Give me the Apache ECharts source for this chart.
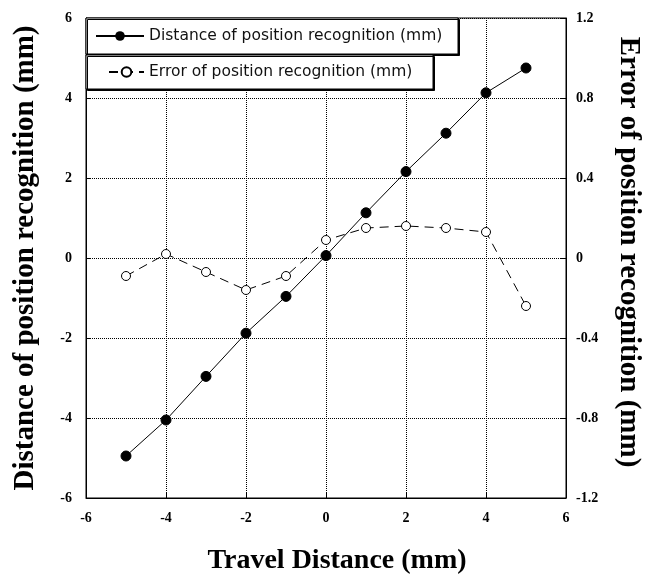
<!DOCTYPE html>
<html>
<head>
<meta charset="utf-8">
<script src="https://cdn.jsdelivr.net/npm/echarts@6/dist/echarts.min.js"></script>
<style>
html,body{margin:0;padding:0;background:#fff;}
#chart{width:650px;height:576px;}
</style>
</head>
<body>
<div id="chart"></div>
<script>
// 数据
var travelDistance = [-5, -4, -3, -2, -1, 0, 1, 2, 3, 4, 5];
var distanceRecog = [-4.95, -4.05, -2.96, -1.88, -0.96, 0.06, 1.13, 2.16, 3.12, 4.13, 4.75];
var errorRecog = [-0.09, 0.02, -0.07, -0.16, -0.09, 0.09, 0.15, 0.16, 0.15, 0.13, -0.24];
var xTicks = [-6, -4, -2, 0, 2, 4, 6];

var serifFont = '"Liberation Serif", "Times New Roman", serif';
var sansFont = '"DejaVu Sans", "Noto Sans", sans-serif';

function pairs(xs, ys){
    var out = [];
    for (var i = 0; i < xs.length; i++) {
        out.push([xs[i], ys[i]]);
    }
    return out;
}

var myChart = echarts.init(document.getElementById('chart'));

var tickLbl = {color:'#000', fontFamily:serifFont, fontWeight:'bold', fontSize:14};
var dotGrid = {show:true, lineStyle:{color:'#000', type:[1,1], width:1}};
var axisLn = {show:true, onZero:false, lineStyle:{color:'#000', width:1}};
var titleStyle = {color:'#000', fontFamily:serifFont, fontWeight:'bold', fontSize:29};

var legendBase = {
    orient:'horizontal',
    left:86,
    backgroundColor:'#fff',
    borderColor:'#000',
    borderWidth:1,
    borderRadius:0,
    shadowColor:'#000',
    shadowBlur:0,
    shadowOffsetX:1.5,
    shadowOffsetY:1.5,
    itemGap:0,
    itemHeight:12,
    selectedMode:false
};

var option = {
    animation:false,
    backgroundColor:'#fff',
    grid:{left:86, right:84, top:18, bottom:78, show:true, borderColor:'#000', borderWidth:1,
        outerBoundsMode:'none', containLabel:false},
    legend:[
        Object.assign({}, legendBase, {top:18, padding:[9,11,9,9], itemWidth:48,
            textStyle:{color:'#111', fontFamily:sansFont, fontSize:15.5, width:298, lineHeight:18},
            data:['Distance of position recognition (mm)']}),
        Object.assign({}, legendBase, {top:55, padding:[8,11,8,22], itemWidth:35,
            textStyle:{color:'#111', fontFamily:sansFont, fontSize:15.5, width:273, lineHeight:18},
            data:['Error of position recognition (mm)']})
    ],
    xAxis:{
        type:'value', min:-6, max:6, interval:2,
        name:'Travel Distance (mm)', nameLocation:'middle', nameGap:49,
        nameTextStyle:Object.assign({}, titleStyle, {fontSize:28, padding:[0,0,0,22]}),
        axisLine:axisLn,
        axisTick:{show:true, inside:true, length:5, lineStyle:{color:'#000'}},
        axisLabel:Object.assign({margin:13, formatter:function(v){ return xTicks.indexOf(v) >= 0 ? String(v) : ''; }}, tickLbl),
        splitLine:dotGrid
    },
    yAxis:[
        {
            type:'value', min:-6, max:6, interval:2, position:'left',
            name:'Distance of position recognition (mm)', nameLocation:'middle', nameGap:46,
            nameTextStyle:titleStyle,
            axisLine:axisLn,
            axisTick:{show:true, inside:true, length:5, lineStyle:{color:'#000'}},
            axisLabel:Object.assign({margin:14}, tickLbl),
            splitLine:dotGrid
        },
        {
            type:'value', min:-1.2, max:1.2, interval:0.4, position:'right',
            name:'Error of position recognition (mm)', nameLocation:'middle', nameGap:48, nameRotate:-90,
            nameTextStyle:Object.assign({}, titleStyle, {padding:[0,12,0,0]}),
            axisLine:axisLn,
            axisTick:{show:true, inside:true, length:5, lineStyle:{color:'#000'}},
            axisLabel:Object.assign({margin:10, formatter:function(v){ return String(Math.round(v*10)/10); }}, tickLbl),
            splitLine:{show:false}
        }
    ],
    series:[
        {
            name:'Distance of position recognition (mm)',
            type:'line', yAxisIndex:0,
            data:pairs(travelDistance, distanceRecog),
            symbol:'circle', symbolSize:10,
            lineStyle:{color:'#000', width:1},
            itemStyle:{color:'#000', borderColor:'#000'},
            z:3
        },
        {
            name:'Error of position recognition (mm)',
            type:'line', yAxisIndex:1,
            data:pairs(travelDistance, errorRecog),
            symbol:'circle', symbolSize:9,
            lineStyle:{color:'#000', width:1, type:[9,6]},
            itemStyle:{color:'#fff', borderColor:'#000', borderWidth:1},
            z:4
        }
    ]
};

myChart.setOption(option);
</script>
</body>
</html>
